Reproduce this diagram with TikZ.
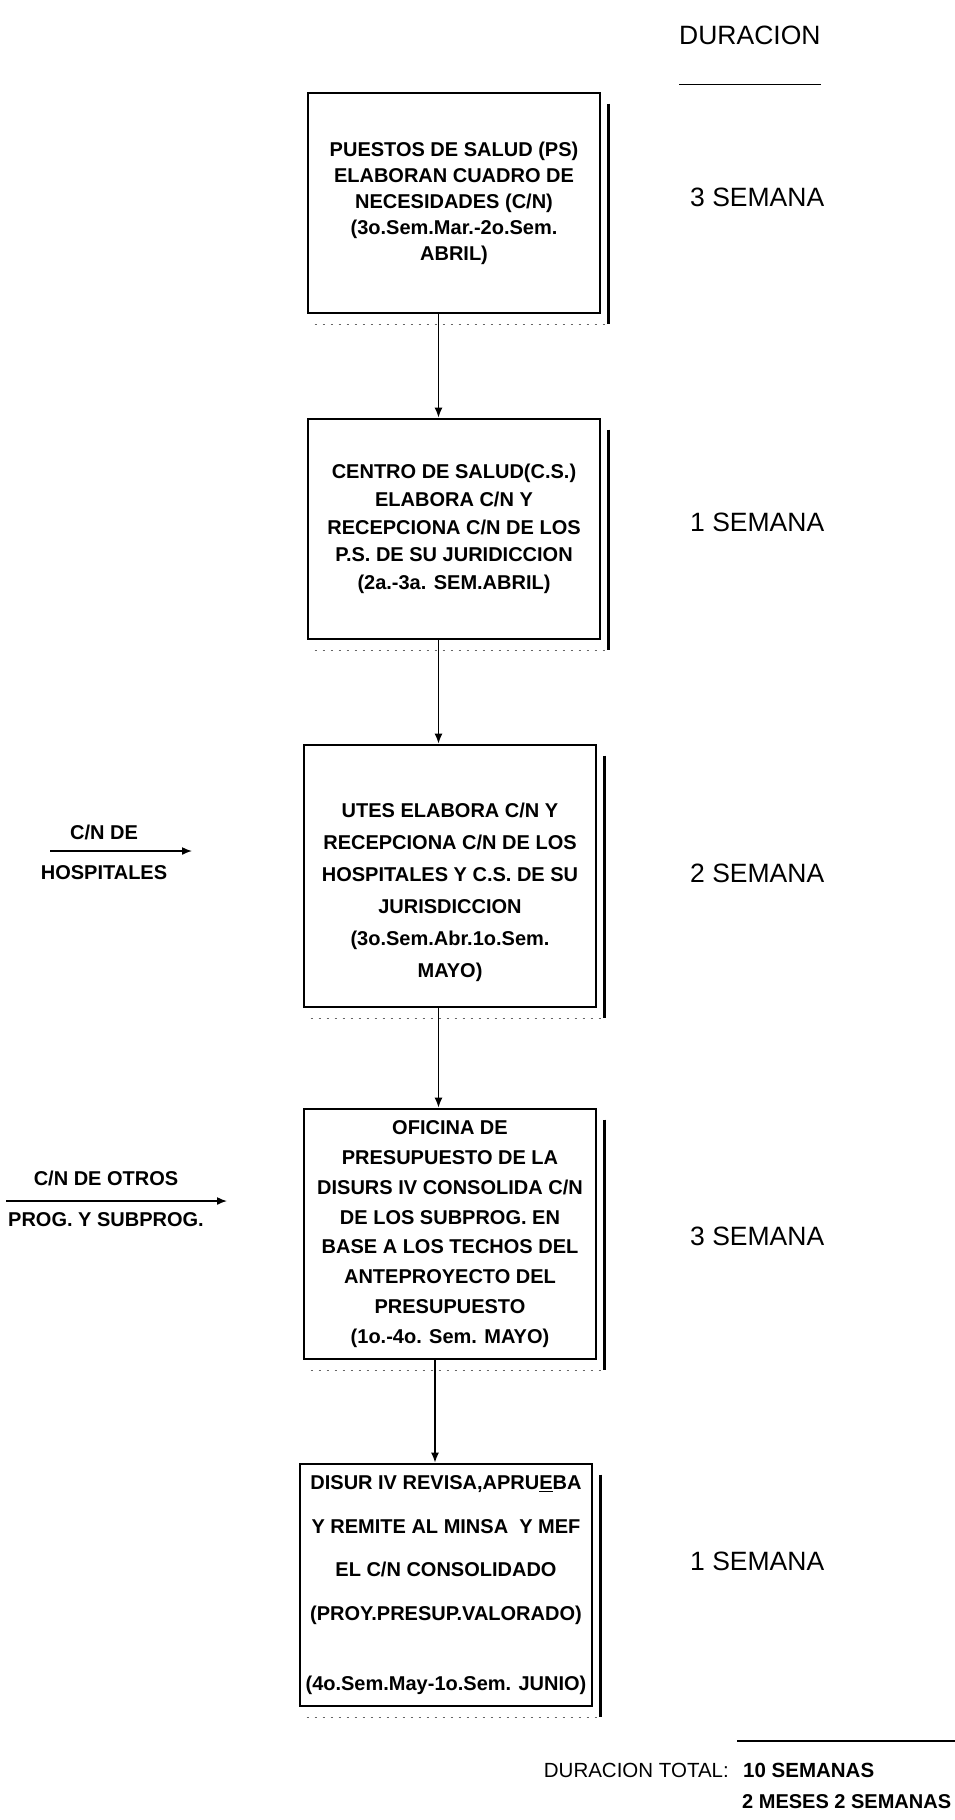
\documentclass[tikz,border=0pt]{standalone}
\usepackage{fontspec}
\setmainfont{Liberation Sans}
\usetikzlibrary{arrows.meta}
\tikzset{
  >=Latex,
  paso/.style={draw=black, line width=2.8pt, minimum width=292pt, align=center, inner sep=0pt, font=\bfseries\fontsize{20}{#1}\selectfont},
  flecha/.style={draw=black, line width=1.5pt, -{Latex[length=10pt,width=8pt]}},
  sombra/.style={draw=black, line width=2.2pt},
  polvo/.style={draw=black!60, line width=1.4pt, dash pattern=on 2pt off 6pt},
  dur/.style={font=\fontsize{26.5}{30}\selectfont, anchor=west, inner sep=0pt},
  total/.style={font=\fontsize{20.5}{24}\selectfont, anchor=west, inner sep=0pt},
  nota/.style={font=\bfseries\fontsize{20}{22}\selectfont, inner sep=0pt},
  raya/.style={draw=black, line width=1.6pt},
}
\begin{document}
\begin{tikzpicture}[x=1pt,y=-1pt]
\useasboundingbox (0,0) rectangle (955,1820);
% header
\node[dur] (hdr) at (679,35) {DURACION};
\draw[raya] ([yshift=-40pt]hdr.south west) -- ([yshift=-40pt]hdr.south east);
% steps
\node[paso=26, minimum height=220pt] (b1) at (454,203) {PUESTOS DE SALUD (PS)\\ELABORAN CUADRO DE\\NECESIDADES (C/N)\\(3o.Sem.Mar.-2o.Sem.\\ABRIL)};
\node[paso=27.7, minimum height=220pt] (b2) at (454,529) {CENTRO DE SALUD(C.S.)\\ELABORA C/N Y\\RECEPCIONA C/N DE LOS\\P.S. DE SU JURIDICCION\\(2a.-3a. SEM.ABRIL)};
\node[paso=32, minimum height=262pt] (b3) at (450,876) {\mbox{}\\[16pt]UTES ELABORA C/N Y\\RECEPCIONA C/N DE LOS\\HOSPITALES Y C.S. DE SU\\JURISDICCION\\(3o.Sem.Abr.1o.Sem.\\MAYO)};
\node[paso=29.8, minimum height=250pt] (b4) at (450,1234) {OFICINA DE\\PRESUPUESTO DE LA\\DISURS IV CONSOLIDA C/N\\DE LOS SUBPROG. EN\\BASE A LOS TECHOS DEL\\ANTEPROYECTO DEL\\PRESUPUESTO\\(1o.-4o. Sem. MAYO)};
\node[paso=43.7, minimum height=242pt] (b5) at (446,1585) {DISUR IV REVISA,APRU\underline{E}BA\\Y REMITE AL MINSA \ Y MEF\\EL C/N CONSOLIDADO\\(PROY.PRESUP.VALORADO)\\[26pt](4o.Sem.May-1o.Sem. JUNIO)};
% shadows of the boxes
\draw[sombra] ([xshift=7pt,yshift=-12pt]b1.north east) -- ([xshift=7pt,yshift=-10pt]b1.south east);
\draw[polvo] ([xshift=8pt,yshift=-10pt]b1.south west) -- ([xshift=7pt,yshift=-10pt]b1.south east);
\draw[sombra] ([xshift=7pt,yshift=-12pt]b2.north east) -- ([xshift=7pt,yshift=-10pt]b2.south east);
\draw[polvo] ([xshift=8pt,yshift=-10pt]b2.south west) -- ([xshift=7pt,yshift=-10pt]b2.south east);
\draw[sombra] ([xshift=7pt,yshift=-12pt]b3.north east) -- ([xshift=7pt,yshift=-10pt]b3.south east);
\draw[polvo] ([xshift=8pt,yshift=-10pt]b3.south west) -- ([xshift=7pt,yshift=-10pt]b3.south east);
\draw[sombra] ([xshift=7pt,yshift=-12pt]b4.north east) -- ([xshift=7pt,yshift=-10pt]b4.south east);
\draw[polvo] ([xshift=8pt,yshift=-10pt]b4.south west) -- ([xshift=7pt,yshift=-10pt]b4.south east);
\draw[sombra] ([xshift=7pt,yshift=-12pt]b5.north east) -- ([xshift=7pt,yshift=-10pt]b5.south east);
\draw[polvo] ([xshift=8pt,yshift=-10pt]b5.south west) -- ([xshift=7pt,yshift=-10pt]b5.south east);
% flow
\draw[flecha] ([xshift=-15.5pt]b1.south) -- ([xshift=-15.5pt]b2.north);
\draw[flecha] ([xshift=-15.5pt]b2.south) -- ([xshift=-11.5pt]b3.north);
\draw[flecha] ([xshift=-11.5pt]b3.south) -- ([xshift=-11.5pt]b4.north);
\draw[flecha] ([xshift=-15pt]b4.south) -- ([xshift=-11pt]b5.north);
% inputs from the left
\node[nota] (hosp1) at (104,832) {C/N DE};
\node[nota] (hosp2) at (104,873) {HOSPITALES};
\coordinate (hA) at (50,851);
\coordinate (hB) at (192,851);
\draw[flecha] (hA) -- (hB);
\node[nota] (otro1) at (106,1178) {C/N DE OTROS};
\node[nota] (otro2) at (106,1220) {PROG. Y SUBPROG.};
\coordinate (oA) at (6,1201);
\coordinate (oB) at (227,1201);
\draw[flecha] (oA) -- (oB);
% durations
\node[dur] (d1) at (690,197) {3 SEMANA};
\node[dur] (d2) at (690,522) {1 SEMANA};
\node[dur] (d3) at (690,873) {2 SEMANA};
\node[dur] (d4) at (690,1236) {3 SEMANA};
\node[dur] (d5) at (690,1561) {1 SEMANA};
% total
\draw[raya] (737,1741) -- (955,1741);
\node[total, anchor=east] (tot) at (729,1770) {DURACION TOTAL:};
\node[total, font=\bfseries\fontsize{20.5}{24}\selectfont] (sem) at (743,1770) {10 SEMANAS};
\node[total, font=\bfseries\fontsize{20}{24}\selectfont] (mes) at (742,1802) {2 MESES 2 SEMANAS};
\end{tikzpicture}
\end{document}
